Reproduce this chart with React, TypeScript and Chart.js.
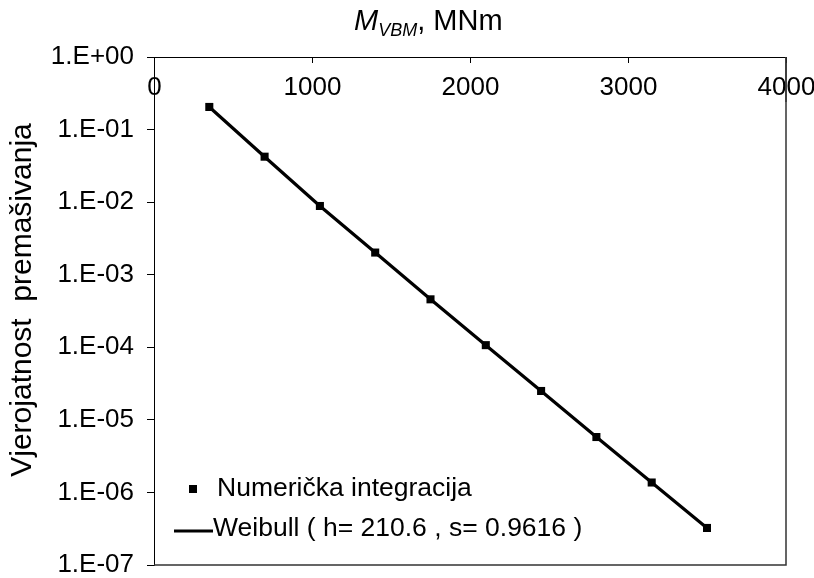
import React, { useEffect, useRef } from 'react';
import { Chart, registerables } from 'chart.js';

Chart.register(...registerables);

// ---- data ----
const xValues = [350, 700, 1050, 1400, 1750, 2100, 2450, 2800, 3150, 3500];
const numericalValues = [0.205, 0.0423, 0.00885, 0.00202, 0.000458, 0.000107, 2.5e-5, 5.8e-6, 1.37e-6, 3.24e-7];
const weibullValues = [0.205, 0.0423, 0.00885, 0.00202, 0.000458, 0.000107, 2.5e-5, 5.8e-6, 1.37e-6, 3.24e-7];
const xTickValues = [0, 1000, 2000, 3000, 4000];
const yTickValues = [1e-7, 1e-6, 1e-5, 1e-4, 1e-3, 1e-2, 1e-1, 1];
const yTickLabels = ['1.E-07', '1.E-06', '1.E-05', '1.E-04', '1.E-03', '1.E-02', '1.E-01', '1.E+00'];
const numericalLabel = 'Numerička integracija';
const weibullLabel = 'Weibull ( h= 210.6 , s= 0.9616 )';
const yTitle = 'Vjerojatnost  premašivanja';
const xTitleMain = 'M';
const xTitleSub = 'VBM';
const xTitleRest = ', MNm';

const FONT = '"Liberation Sans", Arial, sans-serif';

const decorPlugin = {
  id: 'decor',
  afterDraw(chart: any) {
    const { ctx, chartArea: a } = chart;
    const xs = chart.scales.x;
    ctx.save();
    // frame right & bottom
    ctx.strokeStyle = '#333';
    ctx.lineWidth = 1.5;
    ctx.beginPath();
    ctx.moveTo(a.right, a.top);
    ctx.lineTo(a.right, a.bottom);
    ctx.lineTo(a.left, a.bottom);
    ctx.stroke();

    // inward top ticks + labels
    ctx.strokeStyle = '#000';
    ctx.lineWidth = 1;
    ctx.fillStyle = '#000';
    ctx.font = `26px ${FONT}`;
    ctx.textAlign = 'center';
    ctx.textBaseline = 'middle';
    xTickValues.forEach((v) => {
      const px = Math.round(xs.getPixelForValue(v)) + 0.5;
      ctx.beginPath();
      ctx.moveTo(px, a.top);
      ctx.lineTo(px, a.top + 6);
      ctx.stroke();
      ctx.fillText(String(v), px, a.top + 31);
    });
    // redraw vertical edges over labels
    ctx.beginPath();
    ctx.moveTo(a.left + 0.5, a.top);
    ctx.lineTo(a.left + 0.5, a.top + 45);
    ctx.stroke();
    ctx.strokeStyle = '#333';
    ctx.lineWidth = 1.5;
    ctx.beginPath();
    ctx.moveTo(a.right, a.top);
    ctx.lineTo(a.right, a.top + 45);
    ctx.stroke();

    // x title with subscript
    ctx.textAlign = 'left';
    ctx.textBaseline = 'alphabetic';
    let tx = 354;
    const base = 30;
    ctx.font = `italic 29px ${FONT}`;
    ctx.fillText(xTitleMain, tx, base);
    tx += ctx.measureText(xTitleMain).width;
    ctx.font = `italic 18px ${FONT}`;
    ctx.fillText(xTitleSub, tx, base + 6);
    tx += ctx.measureText(xTitleSub).width;
    ctx.font = `29px ${FONT}`;
    ctx.fillText(xTitleRest, tx, base);

    // y title
    ctx.save();
    ctx.translate(23, 300);
    ctx.rotate(-Math.PI / 2);
    ctx.textAlign = 'center';
    ctx.textBaseline = 'middle';
    ctx.font = `30px ${FONT}`;
    ctx.fillText(yTitle, 0, 0);
    ctx.restore();

    // legend
    const ds = chart.data.datasets;
    ctx.font = `26.5px ${FONT}`;
    ctx.textAlign = 'left';
    ctx.textBaseline = 'middle';
    // marker entry
    ctx.fillStyle = ds[1].pointBackgroundColor;
    ctx.fillRect(a.left + 35, a.bottom - 80, 8, 8);
    ctx.fillStyle = '#000';
    ctx.fillText(ds[1].label, a.left + 63, a.bottom - 76);
    // line entry
    ctx.strokeStyle = ds[0].borderColor;
    ctx.lineWidth = ds[0].borderWidth;
    ctx.beginPath();
    ctx.moveTo(a.left + 20, a.bottom - 34);
    ctx.lineTo(a.left + 59, a.bottom - 34);
    ctx.stroke();
    ctx.fillText(ds[0].label, a.left + 59, a.bottom - 36);
    ctx.restore();
  },
};

export default function App() {
  const ref = useRef<HTMLCanvasElement>(null);
  useEffect(() => {
    if (!ref.current) return;
    const chart = new Chart(ref.current, {
      type: 'scatter',
      data: {
        datasets: [
          {
            label: weibullLabel,
            data: xValues.map((x, i) => ({ x, y: weibullValues[i] })),
            showLine: true,
            borderColor: '#000',
            borderWidth: 3.2,
            pointRadius: 0,
            pointHoverRadius: 0,
            order: 2,
          },
          {
            label: numericalLabel,
            data: xValues.map((x, i) => ({ x, y: numericalValues[i] })),
            showLine: false,
            pointStyle: 'rect',
            pointRadius: 5.7,
            pointBackgroundColor: '#000',
            pointBorderColor: '#000',
            pointBorderWidth: 0,
            order: 1,
          },
        ],
      },
      options: {
        responsive: false,
        animation: false,
        events: [],
        layout: { padding: { left: 0, top: 0, right: 28, bottom: 13 } },
        plugins: { legend: { display: false }, tooltip: { enabled: false }, title: { display: false } },
        scales: {
          x: {
            type: 'linear',
            position: 'top',
            min: 0,
            max: 4000,
            afterBuildTicks: (s: any) => {
              s.ticks = xTickValues.map((v) => ({ value: v }));
            },
            ticks: { display: false },
            grid: { display: false },
            border: { display: true, color: '#000', width: 1 },
            afterFit: (s: any) => {
              s.height = 57;
              s.paddingLeft = 0;
              s.paddingRight = 0;
            },
          },
          y: {
            type: 'logarithmic',
            position: 'left',
            min: 1e-7,
            max: 1,
            afterBuildTicks: (s: any) => {
              s.ticks = yTickValues.map((v) => ({ value: v }));
            },
            ticks: {
              color: '#000',
              font: { family: FONT, size: 26 },
              padding: 13,
              autoSkip: false,
              callback: (v: any) => {
                const i = yTickValues.findIndex((t) => Math.abs(Math.log10(t) - Math.log10(v)) < 1e-6);
                return i >= 0 ? yTickLabels[i] : '';
              },
            },
            grid: { display: true, drawOnChartArea: false, drawTicks: true, tickLength: 7, color: '#000' },
            border: { display: true, color: '#000', width: 1 },
            afterFit: (s: any) => {
              s.width = 154;
              s.paddingTop = 0;
              s.paddingBottom = 0;
            },
          },
        },
      },
      plugins: [decorPlugin],
    });
    return () => chart.destroy();
  }, []);
  return (
    <div style={{ position: 'absolute', left: 0, top: 0, width: 814, height: 578, background: '#fff' }}>
      <canvas ref={ref} width={814} height={578} style={{ display: 'block' }} />
    </div>
  );
}
